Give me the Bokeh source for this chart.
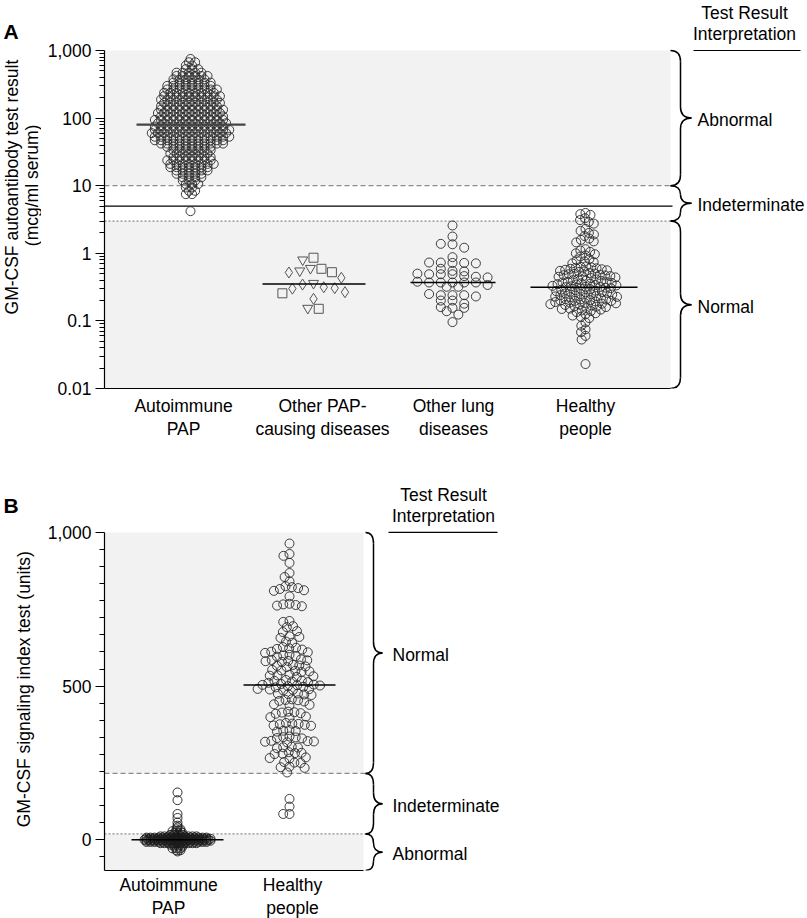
import math
from bokeh.plotting import figure
from bokeh.models import Range1d, FixedTicker, Label, NumeralTickFormatter
from bokeh.layouts import column, row
from bokeh.embed import file_html
from bokeh.resources import INLINE

FONT = "Liberation Sans"
BG = "#f2f2f2"
INK = "#000000"

# ----------------------------- data -----------------------------
cat_a = ["Autoimmune\nPAP", "Other PAP-\ncausing diseases", "Other lung\ndiseases", "Healthy\npeople"]
cat_b = ["Autoimmune\nPAP", "Healthy\npeople"]
ytick_a = [0.01, 0.1, 1, 10, 100, 1000]
ytick_b = [0, 500, 1000]

# Panel A - autoimmune PAP: dense swarm read as value bands and number of circles per band
ap_a_levels = [750, 670, 600, 530, 470, 420, 375, 335, 300, 265, 237, 211, 188, 168, 150, 133, 119, 106, 94, 84,
               75, 67, 60, 53, 47, 42, 37.5, 33.5, 30, 26.5, 23.7, 21, 18.8, 16.8, 15, 13.3, 11.9, 10.6, 9.4, 8.4,
               7.5, 4.2]
ap_a_counts = [1, 2, 2, 3, 5, 6, 6, 7, 8, 9, 9, 10, 10, 10, 10, 11, 11, 11, 12, 12,
               12, 13, 13, 13, 12, 11, 8, 7, 7, 7, 8, 8, 7, 6, 5, 4, 3, 3, 2, 2,
               2, 1]
pap_square = [0.86, 0.59, 0.525, 0.256, 0.151]
pap_triangle = [0.80, 0.60, 0.55, 0.36, 0.154]
pap_diamond = [0.52, 0.434, 0.345, 0.315, 0.305, 0.30, 0.266, 0.212]
lung_a = [2.58, 1.77, 1.38, 1.36, 1.21, 0.876, 0.72, 0.71, 0.73, 0.72, 0.73, 0.55, 0.59, 0.49, 0.49, 0.49,
          0.50, 0.46, 0.54, 0.45, 0.44, 0.38, 0.37, 0.37, 0.37, 0.37, 0.37, 0.34, 0.32, 0.32, 0.24, 0.24,
          0.24, 0.23, 0.25, 0.2, 0.18, 0.2, 0.156, 0.139, 0.16, 0.156, 0.124, 0.096]
healthy_a = [3.95, 3.8, 3.7, 3.3, 3.1, 2.9, 2.75, 2.3, 2.15, 2.0, 1.9, 1.8, 1.65, 1.58, 1.5, 1.45,
             1.15, 1.1, 1.05, 1.0, 0.97, 0.93, 0.9, 0.82, 0.79, 0.76, 0.74, 0.71,
             0.64, 0.63, 0.62, 0.61, 0.60, 0.59, 0.58, 0.57, 0.56, 0.55, 0.54, 0.53,
             0.51, 0.50, 0.495, 0.49, 0.48, 0.475, 0.47, 0.46, 0.455, 0.45, 0.44, 0.43,
             0.415, 0.41, 0.40, 0.395, 0.39, 0.38, 0.375, 0.37, 0.365, 0.36, 0.355, 0.35, 0.345, 0.34,
             0.335, 0.33, 0.325, 0.32, 0.318, 0.315, 0.31, 0.305, 0.30, 0.295, 0.29, 0.285, 0.28, 0.275, 0.27, 0.268,
             0.265, 0.26, 0.255, 0.25, 0.247, 0.245, 0.24, 0.237, 0.233, 0.23, 0.227, 0.225, 0.22, 0.215, 0.21, 0.208,
             0.207, 0.203, 0.2, 0.198, 0.197, 0.194, 0.19, 0.187, 0.184, 0.182, 0.18, 0.177, 0.174, 0.172,
             0.17, 0.165, 0.162, 0.16, 0.155, 0.152, 0.15, 0.147, 0.143, 0.14,
             0.135, 0.13, 0.125, 0.12, 0.115, 0.11, 0.095, 0.085, 0.075, 0.068, 0.06, 0.053, 0.023]
median_a = [80, 0.35, 0.37, 0.315]
cut_a_high, cut_a_mid, cut_a_low = 10, 5, 3
interp_a = ["Abnormal", "Indeterminate", "Normal"]

# Panel B - GM-CSF signaling index (units)
ap_b_levels = [154, 129, 84, 71, 56, 46, 40, 34, 28, 22, 16, 11, 7, 3, 0, -3, -7, -11, -16, -22, -28, -34, -38]
ap_b_counts = [1, 1, 1, 1, 1, 1, 1, 2, 3, 3, 4, 10, 16, 17, 17, 17, 16, 10, 4, 3, 3, 2, 1]
healthy_b = [964, 930, 924, 901, 868, 855, 841, 825, 822, 819, 816, 812, 810, 792, 768, 766, 764, 762, 760,
             712, 709, 695, 692, 679, 676, 662, 660, 657, 645, 641, 627, 625, 623, 621, 619, 612, 610, 608,
             602, 600, 598, 596, 587, 585, 584, 582, 581, 579, 569, 567, 566, 564, 562, 553, 551, 550, 548, 546,
             537, 535, 534, 532, 530, 520, 518, 517, 515, 513, 511, 507, 505, 504, 503, 502, 500, 498, 496,
             491, 490, 489, 488, 486, 476, 475, 474, 473, 471, 457, 455, 454, 452, 450, 441, 439, 437,
             417, 415, 414, 412, 410, 401, 399, 397, 380, 378, 377, 376, 374, 372, 371, 357, 355, 354, 352,
             336, 334, 333, 331, 330, 322, 321, 320, 319, 317, 303, 301, 300, 298, 285, 283, 282, 280, 279,
             268, 266, 264, 253, 251, 250, 238, 236, 234, 219, 133, 108, 84, 84]
median_b = [0, 504]
cut_b_high, cut_b_low = 216, 19
interp_b = ["Normal", "Indeterminate", "Abnormal"]

# ----------------------------- layout helpers (reference pixel geometry) -----------------------------
STRIP = 41
FRAME_W = 702
LEFT = 104 - STRIP
X0 = 104
A_PPD = 67.6
A_Y1000 = 50
B_PPU = 0.3073
B_YM100 = 870
HA = 470
B_TOP = 478 - HA
HB = 918 - HA


def xd(rx):
    return rx - X0


def a_val(ry):
    return 10 ** (3 - (ry - A_Y1000) / A_PPD)


def a_px(v):
    return -math.log10(v) * A_PPD


def a_shift(v, d):
    return v * 10 ** (-d / A_PPD)


def a_h(t, b):
    return (math.log10(t) - math.log10(b)) * A_PPD


def b_val(ry):
    return -100 + (B_YM100 - ry) / B_PPU


def b_px(v):
    return -v * B_PPU


def b_shift(v, d):
    return v - d / B_PPU


def b_h(t, b):
    return (t - b) * B_PPU


def rows_layout(levels, counts, s):
    """x offsets for a dense swarm given as value rows: evenly spaced, alternate rows nudged."""
    xs, ys = [], []
    for r, (v, n) in enumerate(zip(levels, counts)):
        nudge = (s / 4) * (1 if r % 2 else -1) if n > 1 else 0
        for j in range(n):
            xs.append((j - (n - 1) / 2) * s + nudge)
            ys.append(v)
    return xs, ys


def binned_rows(vals, ypx, tol, s):
    """Prism-like layout: points whose screen heights lie within tol px share a row."""
    order = sorted(range(len(vals)), key=lambda i: (ypx(vals[i]), i))
    rows, cur, start = [], [], None
    for i in order:
        y = ypx(vals[i])
        if cur and y - start > tol:
            rows.append(cur)
            cur = []
        if not cur:
            start = y
        cur.append(i)
    rows.append(cur)
    off = [0.0] * len(vals)
    for r in rows:
        n = len(r)
        for j, i in enumerate(r):
            off[i] = (j - (n - 1) / 2) * s
    return off


def swarm(vals, ypx, d):
    order = sorted(range(len(vals)), key=lambda i: (ypx(vals[i]), i))
    placed = []
    off = [0.0] * len(vals)
    for i in order:
        y = ypx(vals[i])
        near = [(px, py) for px, py in placed if abs(py - y) < d]
        cands = [0.0]
        for px, py in near:
            dx = math.sqrt(max(d * d - (py - y) ** 2, 0))
            cands += [px + dx, px - dx]
        cands.sort(key=lambda c: (abs(c), c))
        best = cands[-1]
        for c in cands:
            if all((c - px) ** 2 + (y - py) ** 2 >= d * d - 1e-6 for px, py in near):
                best = c
                break
        placed.append((best, y))
        off[i] = best
    return off


def style(p, ticks, names, standoff):
    p.grid.visible = False
    p.outline_line_color = None
    p.background_fill_color = "white"
    p.border_fill_color = "white"
    xa = p.xaxis
    xa.ticker = FixedTicker(ticks=ticks)
    xa.major_label_overrides = dict(zip(ticks, names))
    xa.axis_line_color = INK
    xa.axis_line_width = 1.2
    xa.major_tick_line_color = None
    xa.minor_tick_line_color = None
    xa.major_tick_out = 0
    xa.major_label_standoff = standoff
    xa.major_label_text_font = FONT
    xa.major_label_text_font_size = "17.5px"
    xa.major_label_text_line_height = 1.15
    xa.major_label_text_color = INK
    ya = p.yaxis
    ya.axis_line_color = INK
    ya.axis_line_width = 1.2
    ya.major_tick_out = 9
    ya.major_tick_in = 0
    ya.minor_tick_out = 5
    ya.minor_tick_in = 0
    ya.major_tick_line_color = INK
    ya.minor_tick_line_color = INK
    ya.major_label_text_font = FONT
    ya.major_label_text_font_size = "17.5px"
    ya.major_label_text_color = INK
    ya.major_label_standoff = 4


def label(p, x, y, text, size="17.5px", align="left", baseline="middle", angle=0, bold=False):
    p.add_layout(Label(x=x, y=y, text=text, text_font=FONT, text_font_size=size, text_align=align,
                       text_baseline=baseline, angle=angle, text_color=INK,
                       text_font_style="bold" if bold else "normal"))


def brace(p, top, bot, shift, hfun, xe, xs, xt, r=11, lw=1.5):
    h = hfun(top, bot)
    mid = shift(top, h / 2)
    rr = min(r, h / 4)
    p.quadratic(x0=[xe, xs, xt, xs], y0=[top, shift(mid, -rr), mid, shift(bot, -rr)],
                x1=[xs, xt, xs, xe], y1=[shift(top, rr), mid, shift(mid, rr), bot],
                cx=[xs, xs, xs, xs], cy=[top, mid, mid, bot], line_color=INK, line_width=lw)
    p.segment(x0=[xs, xs], y0=[shift(top, rr), shift(mid, rr)], x1=[xs, xs],
              y1=[shift(mid, -rr), shift(bot, -rr)], line_color=INK, line_width=lw)
    return mid


def strip(top, height):
    s = figure(width=STRIP, height=height, x_range=Range1d(0, STRIP), y_range=Range1d(top + height, top),
               x_axis_location=None, y_axis_location=None, min_border=0, min_border_left=0,
               min_border_right=0, min_border_top=0, min_border_bottom=0,
               output_backend="svg", toolbar_location=None)
    s.grid.visible = False
    s.outline_line_color = None
    s.background_fill_color = "white"
    s.border_fill_color = "white"
    return s


# ============================== Panel A ==============================
pA = figure(frame_width=FRAME_W, frame_height=388, y_axis_type="log",
            x_range=Range1d(0, FRAME_W), y_range=Range1d(0.01, a_val(0)),
            min_border_left=LEFT, min_border_right=0, min_border_top=0, min_border_bottom=HA - 388,
            output_backend="svg", toolbar_location=None)
style(pA, [xd(183), xd(322), xd(453), xd(585)], cat_a, 7)
pA.yaxis.ticker = FixedTicker(ticks=ytick_a, minor_ticks=[m * 10 ** e for e in range(-2, 3) for m in range(2, 10)])
pA.yaxis.formatter = NumeralTickFormatter(format="0,0.[00]")
pA.yaxis.bounds = (0.01, 1000)
pA.xaxis.bounds = (0, xd(670))

pA.quad(left=[0, 0], right=[xd(670)] * 2, bottom=[cut_a_high, 0.01], top=[1000, cut_a_low], fill_color=BG,
        line_color=None)
pA.segment(x0=[0], y0=[cut_a_high], x1=[xd(672)], y1=[cut_a_high], line_color="#8c8c8c", line_dash="5 3", line_width=1.2)
pA.segment(x0=[0], y0=[cut_a_mid], x1=[xd(672)], y1=[cut_a_mid], line_color=INK, line_width=1.2)
pA.segment(x0=[0], y0=[cut_a_low], x1=[xd(672)], y1=[cut_a_low], line_color="#8c8c8c", line_dash="2 2", line_width=1.2)

centers_a = [xd(190), xd(313), xd(452), xd(585)]

off, ap_a = rows_layout(ap_a_levels, ap_a_counts, 6.2)
pA.scatter(x=[centers_a[0] + o for o in off], y=ap_a, marker="circle", size=9, fill_alpha=0,
           line_color="#2a2a2a", line_width=0.9)

pap_all = pap_square + pap_triangle + pap_diamond
pap_mk = ["square"] * len(pap_square) + ["inverted_triangle"] * len(pap_triangle) + ["diamond"] * len(pap_diamond)
off = swarm(pap_all, a_px, 11)
for mk, sz in (("square", 9), ("inverted_triangle", 10), ("diamond", 11)):
    xs = [centers_a[1] + o for o, m in zip(off, pap_mk) if m == mk]
    ys = [v for v, m in zip(pap_all, pap_mk) if m == mk]
    pA.scatter(x=xs, y=ys, marker=mk, size=sz, fill_alpha=0, line_color="#555555", line_width=1)

off = binned_rows(lung_a, a_px, 4, 11.7)
pA.scatter(x=[centers_a[2] + o for o in off], y=lung_a, marker="circle", size=9, fill_alpha=0,
           line_color="#2a2a2a", line_width=0.9)

off = swarm(healthy_a, a_px, 5.3)
pA.scatter(x=[centers_a[3] + o for o in off], y=healthy_a, marker="circle", size=9, fill_alpha=0,
           line_color="#2a2a2a", line_width=0.9)

med_w_a = [109, 103, 85, 107]
med_c_a = [xd(190.5), xd(313.5), xd(452.5), xd(583.5)]
pA.segment(x0=[c - w / 2 for c, w in zip(med_c_a, med_w_a)], y0=median_a,
           x1=[c + w / 2 for c, w in zip(med_c_a, med_w_a)], y1=median_a,
           line_color=["#444444", INK, INK, INK], line_width=[2.2, 1.5, 1.5, 1.5])

mids = []
for t, b in ((1000, cut_a_high), (cut_a_high, cut_a_low), (cut_a_low, 0.01)):
    mids.append(brace(pA, t, b, a_shift, a_h, xd(670), xd(680), xd(691)))
for txt, m in zip(interp_a, mids):
    label(pA, xd(697), a_shift(m, 2), txt)

label(pA, xd(744), a_val(12), "Test Result", align="center")
label(pA, xd(744), a_val(33), "Interpretation", align="center")
pA.segment(x0=[xd(693)], y0=[1000], x1=[xd(800)], y1=[1000], line_color=INK, line_width=1.2)

sA = strip(0, HA)
label(sA, 3, 38, "A", size="21px", bold=True)
label(sA, 11, 226, "GM-CSF autoantibody test result", align="center", angle=math.pi / 2)
label(sA, 31, 224, "(mcg/ml serum)", align="center", angle=math.pi / 2)

# ============================== Panel B ==============================
pB = figure(frame_width=FRAME_W, frame_height=392, x_range=Range1d(0, FRAME_W),
            y_range=Range1d(-100, -100 + 392 / B_PPU),
            min_border_left=LEFT, min_border_right=0, min_border_top=B_TOP, min_border_bottom=HB - B_TOP - 392,
            output_backend="svg", toolbar_location=None)
style(pB, [xd(168), xd(292)], cat_b, 4)
step = 500 / 9
pB.yaxis.ticker = FixedTicker(ticks=ytick_b,
                              minor_ticks=[1000 - k * step for k in range(1, 9)] + [500 - k * step for k in range(1, 9)] + [-step])
pB.yaxis.formatter = NumeralTickFormatter(format="0,0")
pB.yaxis.bounds = (-100, 1000)
pB.xaxis.bounds = (0, xd(363))

pB.quad(left=[0, 0], right=[xd(363)] * 2, bottom=[cut_b_high, -100], top=[1000, cut_b_low], fill_color=BG,
        line_color=None)
pB.segment(x0=[0], y0=[cut_b_high], x1=[xd(365)], y1=[cut_b_high], line_color="#8c8c8c", line_dash="5 3", line_width=1.2)
pB.segment(x0=[0], y0=[cut_b_low], x1=[xd(365)], y1=[cut_b_low], line_color="#8c8c8c", line_dash="2 2", line_width=1.2)

centers_b = [xd(177), xd(289)]
off, ap_b = rows_layout(ap_b_levels, ap_b_counts, 4.0)
pB.scatter(x=[centers_b[0] + o for o in off], y=ap_b, marker="circle", size=9, fill_alpha=0,
           line_color="#1a1a1a", line_width=0.9)
off = swarm(healthy_b, b_px, 6.3)
pB.scatter(x=[centers_b[1] + o for o in off], y=healthy_b, marker="circle", size=9, fill_alpha=0,
           line_color="#2a2a2a", line_width=0.9)

med_c_b = [xd(177), xd(289)]
pB.segment(x0=[c - 46 for c in med_c_b], y0=median_b, x1=[c + 46 for c in med_c_b], y1=median_b,
           line_color=INK, line_width=1.5)

mids = []
for t, b in ((1000, cut_b_high), (cut_b_high, cut_b_low), (cut_b_low, -100)):
    mids.append(brace(pB, t, b, b_shift, b_h, xd(365), xd(373), xd(382)))
for txt, m in zip(interp_b, mids):
    label(pB, xd(392), b_shift(m, 2), txt)

label(pB, xd(443), b_val(494), "Test Result", align="center")
label(pB, xd(443), b_val(515), "Interpretation", align="center")
pB.segment(x0=[xd(388)], y0=[1000], x1=[xd(497)], y1=[1000], line_color=INK, line_width=1.2)

sB = strip(HA, HB)
label(sB, 3, 501, "B", size="21px", bold=True)
label(sB, 23, 712, "GM-CSF signaling index test (units)", align="center", angle=math.pi / 2)

root = column(row(sA, pA), row(sB, pB))
open("out.html", "w").write(file_html(root, INLINE))
